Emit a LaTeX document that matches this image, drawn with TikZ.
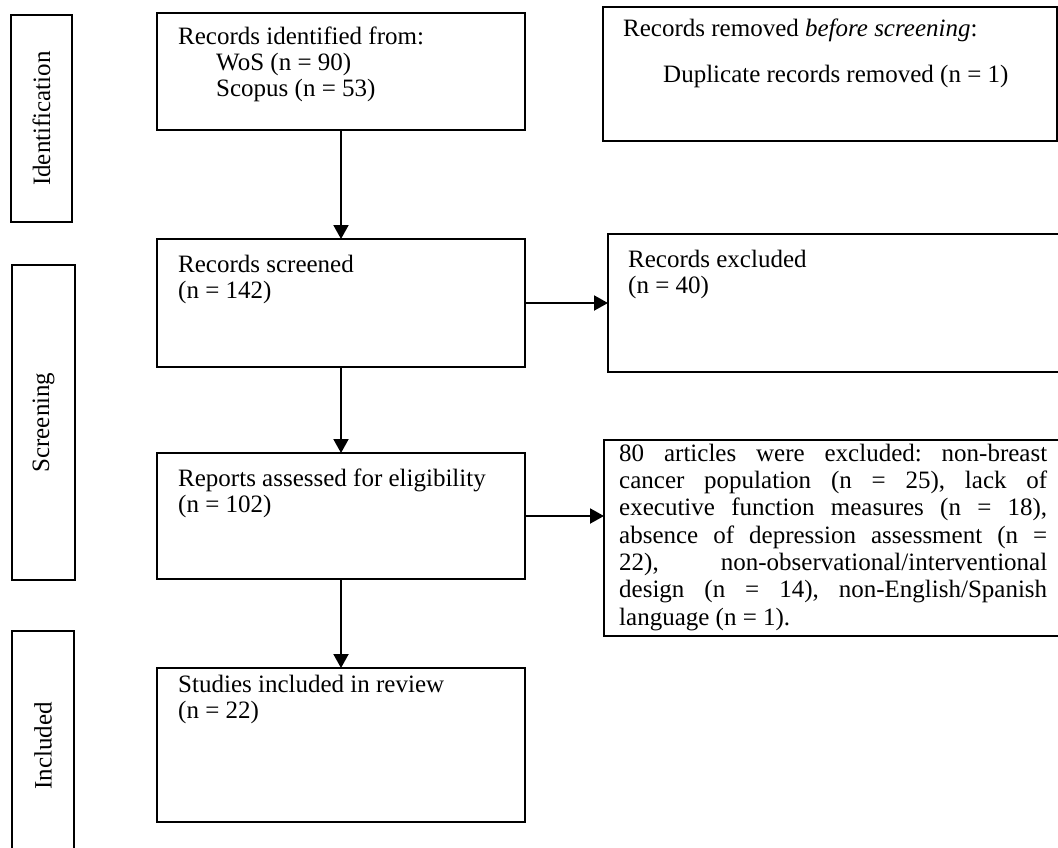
\documentclass[tikz,border=0pt]{standalone}
\usepackage{fontspec}
\setmainfont{Liberation Serif}
\usetikzlibrary{arrows.meta}
\frenchspacing
\begin{document}
\begin{tikzpicture}[x=1pt,y=-1pt,
  box/.style={draw=black, line width=1.8pt, inner sep=0pt, outer sep=0pt, anchor=north west},
  txt/.style={anchor=north west, inner sep=0pt, align=left, font=\fontsize{25}{26}\selectfont},
  arr/.style={draw=black, line width=2pt, -{Triangle[length=14pt,width=15pt]}},
  phase/.style={rotate=90, inner sep=0pt, font=\fontsize{25}{26}\selectfont}]
\useasboundingbox[fill=white] (0,0) rectangle (1058,847);
% phase boxes
\node[box, minimum width=61pt, minimum height=207pt] (pid) at (11,15) {};
\node[box, minimum width=63pt, minimum height=315pt] (psc) at (12,265) {};
\node[box, minimum width=62pt, minimum height=230pt] (pin) at (12,631) {};
\node[phase] (lid) at (pid.center) {Identification};
\node[phase] (lsc) at (psc.center) {Screening};
\node[phase] (lin) at (pin.center) {Included};
% main boxes
\node[box, minimum width=368pt, minimum height=117pt] (b1) at (157,13) {};
\node[box, minimum width=368pt, minimum height=128pt] (b2) at (157,239) {};
\node[box, minimum width=368pt, minimum height=126pt] (b3) at (157,453) {};
\node[box, minimum width=368pt, minimum height=154pt] (b4) at (157,668) {};
% right boxes
\node[box, minimum width=454pt, minimum height=134pt] (r1) at (603,7) {};
\node[box, minimum width=462pt, minimum height=138pt] (r2) at (608,234) {};
\node[box, minimum width=466pt, minimum height=196pt] (r3) at (604,440) {};
% texts
\node[txt] (t1) at (178,25.8) {\strut Records identified from:\\\strut\hspace*{38pt}WoS (n = 90)\\\strut\hspace*{38pt}Scopus (n = 53)};
\node[txt] (t2) at (178,253.8) {\strut Records screened\\\strut(n = 142)};
\node[txt] (t3) at (178,467.8) {\strut Reports assessed for eligibility\\\strut(n = 102)};
\node[txt] (t4) at (178,673.8) {\strut Studies included in review\\\strut(n = 22)};
\node[txt] (tr1a) at (623,17.8) {\strut Records removed \textit{before screening}:};
\node[txt] (tr1b) at (663,63.8) {\strut Duplicate records removed (n = 1)};
\node[txt] (tr2) at (628,248.8) {\strut Records excluded\\\strut(n = 40)};
\node[txt, align=justify, text width=428pt, font=\fontsize{25}{27.3}\selectfont] (tr3) at (619,441.9)
  {\strut 80 articles were excluded: non-breast\linebreak
   cancer population (n = 25), lack of\linebreak
   executive function measures (n = 18),\linebreak
   absence of depression assessment (n =\linebreak
   22), non-observational/interventional\linebreak
   design (n = 14), non-English/Spanish\linebreak
   language (n = 1).};
% arrows
\draw[arr] (b1.south) -- (b1.south |- b2.north);
\draw[arr] (b2.south) -- (b2.south |- b3.north);
\draw[arr] (b3.south) -- (b3.south |- b4.north);
\draw[arr] (b2.east) -- (b2.east -| r2.west);
\draw[arr] (b3.east) -- (b3.east -| r3.west);
\end{tikzpicture}
\end{document}
